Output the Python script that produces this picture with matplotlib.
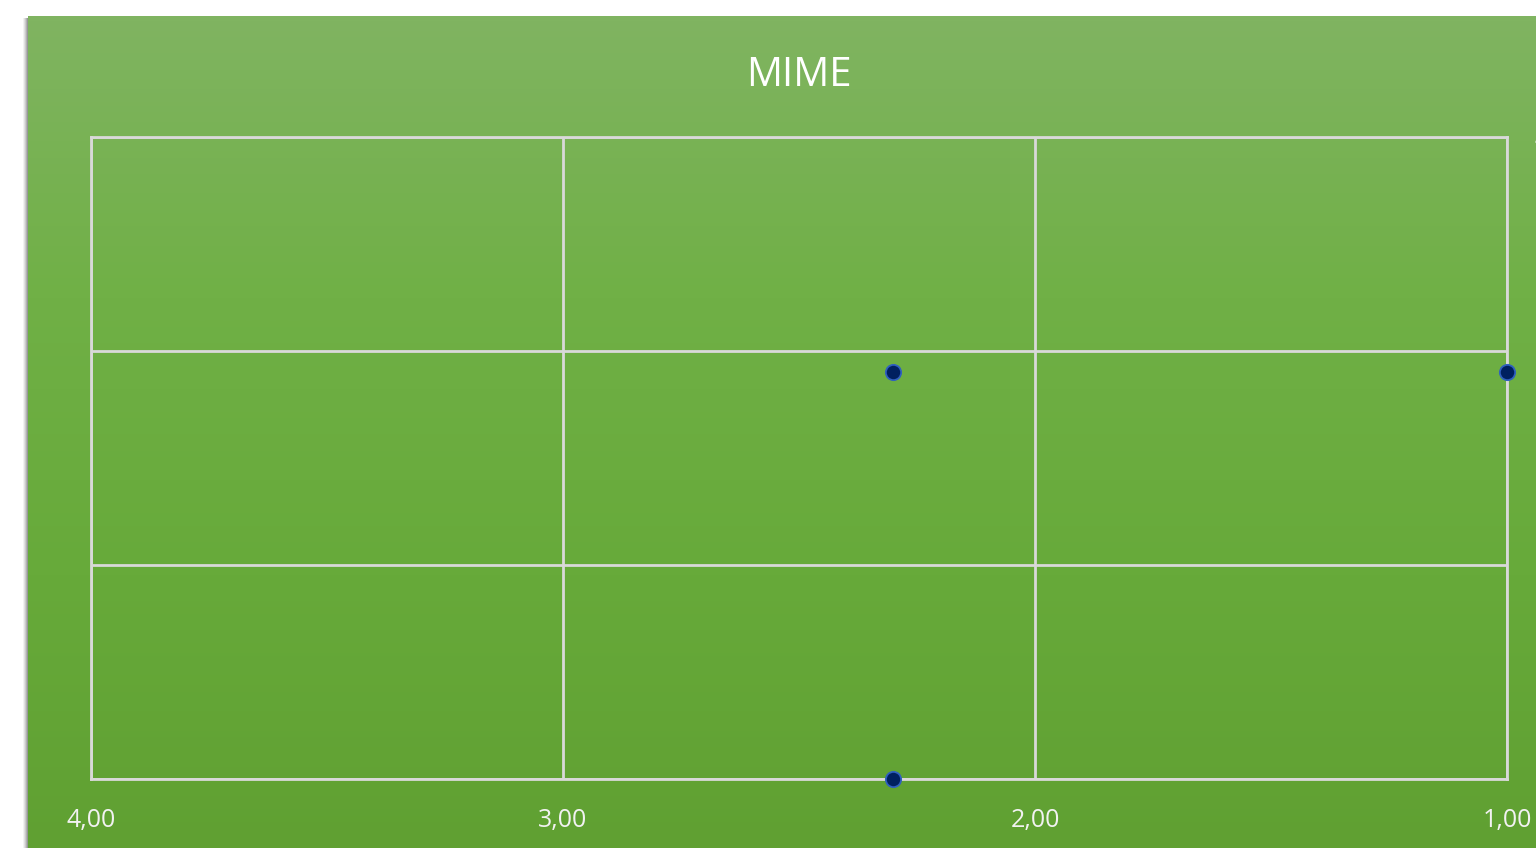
import numpy as np
import matplotlib
matplotlib.use("Agg")
import matplotlib.pyplot as plt
from matplotlib.patches import Rectangle
from matplotlib.colors import LinearSegmentedColormap

# ---- data ----
title = "MIME"
x_values = [2.30, 1.00, 2.30]
y_values = [2.90, 2.90, 1.00]
x_ticks = [4, 3, 2, 1]
y_ticks = [1, 2, 3, 4]

W, H = 1536, 848
fig = plt.figure(figsize=(W / 100, H / 100), dpi=100, facecolor="white")

# background panel with gradient and soft shadow
bg = fig.add_axes([0, 0, 1, 1])
bg.set_xlim(0, W)
bg.set_ylim(H, 0)
bg.axis("off")
for i, a in enumerate([0.05, 0.07, 0.09, 0.12, 0.15]):
    off = 5 - i
    bg.add_patch(Rectangle((28 - off, 16 + 2), 10, H, color="black", alpha=a, lw=0))
cmap = LinearSegmentedColormap.from_list(
    "g", ["#80b461", "#70b046", "#67aa3a", "#60a032"])
grad = np.linspace(0, 1, 256).reshape(-1, 1)
bg.imshow(grad, cmap=cmap, aspect="auto", extent=(28, W + 5, H + 5, 16),
          interpolation="bilinear", zorder=2)
bg.set_xlim(0, W)
bg.set_ylim(H, 0)

# main axes
ax = fig.add_axes([91 / W, (H - 779) / H, 1416 / W, 642 / H])
ax.set_facecolor("none")
ax.set_xlim(4, 1)
ax.set_ylim(1, 4)
ax.set_xticks(x_ticks)
ax.set_yticks(y_ticks)
ax.set_xticklabels([f"{v:.2f}".replace(".", ",") for v in x_ticks])
ax.set_yticklabels([f"{v:.2f}".replace(".", ",") for v in y_ticks])
ax.yaxis.tick_right()
ax.tick_params(axis="both", length=0, colors="#f2f2f2", labelsize=18)
ax.tick_params(axis="x", pad=21)
ax.tick_params(axis="y", pad=20)
for lab in ax.get_xticklabels() + ax.get_yticklabels():
    lab.set_family("Open Sans")
ax.grid(True, color="#d9d9d9", lw=2)
for s in ax.spines.values():
    s.set_color("#d9d9d9")
    s.set_linewidth(2)
ax.set_axisbelow(True)

ax.plot(x_values, y_values, ls="none", marker="o", ms=11,
        mfc="#002060", mec="#2f5fc0", mew=1.3, clip_on=False, zorder=5)

fig.text((91 + 1507) / 2 / W, 1 - 76 / H, title, ha="center", va="center",
         color="white", fontsize=29, family="Open Sans")

fig.savefig("out.png", dpi=100, facecolor="white")
